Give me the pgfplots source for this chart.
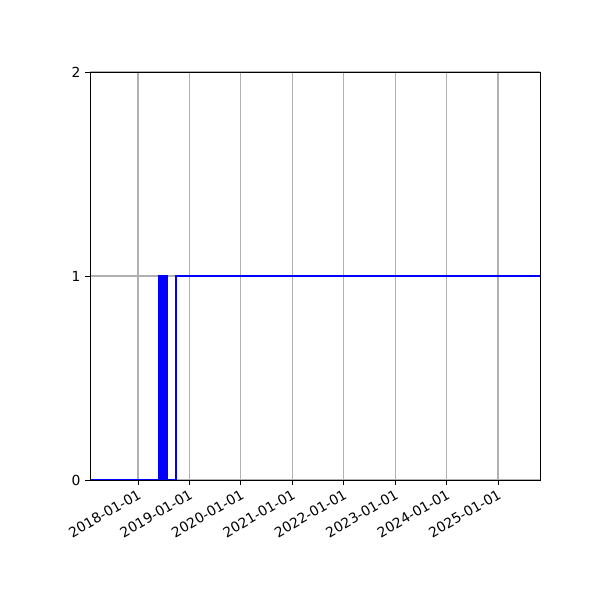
\documentclass[border=0pt]{standalone}
\usepackage{pgfplots}
\pgfplotsset{compat=1.18}
\usepackage{fontspec}
\setmainfont{DejaVu Sans}
\begin{document}
\begin{tikzpicture}[x=1pt,y=1pt]
\useasboundingbox (-67.5,-90) rectangle (382.5,360);
\begin{axis}[
  at={(0,0)}, anchor=origin,
  scale only axis,
  width=337.5pt, height=306pt,
  xmin=2017.067, xmax=2025.816,
  ymin=0, ymax=2,
  xtick={2018,2019,2020,2021,2022,2023,2024,2025},
  xticklabels={2018-01-01,2019-01-01,2020-01-01,2021-01-01,2022-01-01,2023-01-01,2024-01-01,2025-01-01},
  ytick={0,1,2},
  xtick pos=left, ytick pos=left,
  tick align=outside,
  major tick length=3.65pt,
  tick style={black, line width=0.6pt},
  grid=major,
  grid style={color=black!31, line width=0.83pt},
  axis line style={line width=0.6pt},
  ticklabel style={font=\fontsize{10.4}{12}\selectfont},
  /pgf/number format/assume math mode=true,
  xticklabel style={rotate=30, anchor=north east, inner sep=2pt},
  clip=false,
]
\addplot[blue, line width=1.56pt, line join=miter] coordinates {
(2017.067,0) (2018.418,0)
(2018.418,1) (2018.424,1) (2018.424,0) (2018.430,0)
(2018.430,1) (2018.436,1) (2018.436,0) (2018.442,0)
(2018.442,1) (2018.448,1) (2018.448,0) (2018.454,0)
(2018.454,1) (2018.460,1) (2018.460,0) (2018.466,0)
(2018.466,1) (2018.472,1) (2018.472,0) (2018.478,0)
(2018.478,1) (2018.484,1) (2018.484,0) (2018.490,0)
(2018.490,1) (2018.496,1) (2018.496,0) (2018.502,0)
(2018.502,1) (2018.508,1) (2018.508,0) (2018.514,0)
(2018.514,1) (2018.520,1) (2018.520,0) (2018.526,0)
(2018.526,1) (2018.532,1) (2018.532,0) (2018.538,0)
(2018.538,1) (2018.544,1) (2018.544,0) (2018.550,0)
(2018.550,1) (2018.554,1) (2018.554,0)
(2018.733,0) (2018.733,1) (2025.816,1)
};
\draw[black, line width=0.6pt] (rel axis cs:0,0) rectangle (rel axis cs:1,1);
\end{axis}
\end{tikzpicture}
\end{document}
